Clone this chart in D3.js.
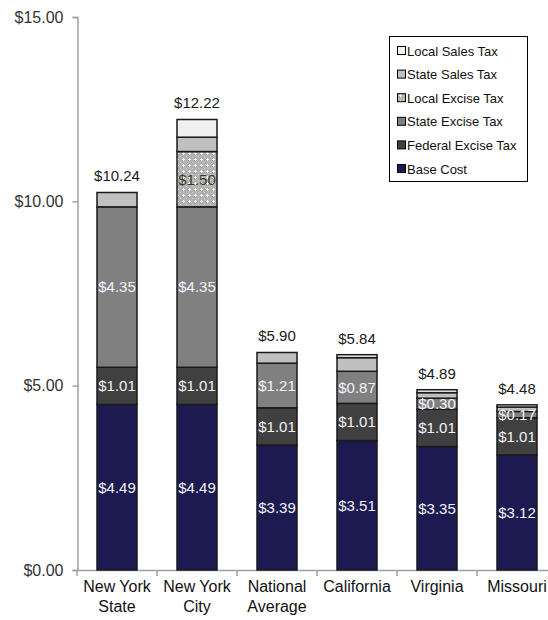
<!DOCTYPE html>
<html>
<head>
<meta charset="utf-8">
<script src="https://cdn.jsdelivr.net/npm/d3@7"></script>
<style>
  html, body { margin: 0; padding: 0; background: #fff; }
  svg { display: block; font-family: "Liberation Sans", Arial, sans-serif; }
</style>
</head>
<body>
<svg id="chart" width="548" height="620"></svg>
<script>
// Price of a pack of cigarettes, split into cost and tax components
const categories = ["New York State", "New York City", "National Average", "California", "Virginia", "Missouri"];
const categoryLines = [["New York", "State"], ["New York", "City"], ["National", "Average"], ["California"], ["Virginia"], ["Missouri"]];

const baseCost      = [4.49, 4.49, 3.39, 3.51, 3.35, 3.12];
const federalExcise = [1.01, 1.01, 1.01, 1.01, 1.01, 1.01];
const stateExcise   = [4.35, 4.35, 1.21, 0.87, 0.30, 0.17];
const localExcise   = [0.00, 1.50, 0.00, 0.00, 0.00, 0.00];
const stateSales    = [0.39, 0.39, 0.29, 0.37, 0.15, 0.12];
const localSales    = [0.00, 0.48, 0.00, 0.08, 0.08, 0.06];

const seriesKeys   = ["base", "federal", "stateExcise", "localExcise", "stateSales", "localSales"];
const seriesNames  = ["Base Cost", "Federal Excise Tax", "State Excise Tax", "Local Excise Tax", "State Sales Tax", "Local Sales Tax"];
const labelledKeys = ["base", "federal", "stateExcise", "localExcise"];
const yTicks = [0, 5, 10, 15];

const rows = categories.map((c, i) => ({
  category: c,
  base: baseCost[i],
  federal: federalExcise[i],
  stateExcise: stateExcise[i],
  localExcise: localExcise[i],
  stateSales: stateSales[i],
  localSales: localSales[i]
}));

const svg = d3.select("#chart");

// dotted fill for the local excise tax
const defs = svg.append("defs");
const pat = defs.append("pattern")
  .attr("id", "dots").attr("patternUnits", "userSpaceOnUse")
  .attr("width", 6).attr("height", 6);
pat.append("rect").attr("width", 6).attr("height", 6).attr("fill", "#b2b2b2");
pat.append("rect").attr("x", 0).attr("y", 0).attr("width", 1).attr("height", 1).attr("fill", "#d0d0d0");
pat.append("rect").attr("x", 2).attr("y", 4).attr("width", 1).attr("height", 1).attr("fill", "#999");
pat.append("rect").attr("x", 3).attr("y", 2).attr("width", 1).attr("height", 3).attr("fill", "#fff");
pat.append("rect").attr("x", 2).attr("y", 3).attr("width", 3).attr("height", 1).attr("fill", "#fff");

const fills = {
  base: "#1c1a50",
  federal: "#404040",
  stateExcise: "#808080",
  localExcise: "url(#dots)",
  stateSales: "#c0c0c0",
  localSales: "#f0f0f0"
};

const x = d3.scaleBand().domain(categories).range([77, 557]).paddingInner(0.5).paddingOuter(0.25);
const y = d3.scaleLinear().domain([0, 15]).range([570, 17]);

// Axes
const axisColor = "#a0a0a0";
const yAxis = svg.append("g").attr("transform", "translate(77.5,0)")
  .call(d3.axisLeft(y).tickValues(yTicks).tickFormat(d3.format("$.2f")).tickSize(5).tickPadding(9));
yAxis.select(".domain").attr("stroke", axisColor).attr("stroke-width", 1.5);
yAxis.selectAll(".tick line").attr("stroke", axisColor).attr("stroke-width", 1.5);
yAxis.selectAll(".tick text").attr("font-size", 16).attr("fill", "#333")
  .attr("font-family", "Liberation Sans, Arial, sans-serif");

const step = x.step();
const boundaries = d3.range(categories.length + 1).map(i => 77 + i * step);
const xAxisG = svg.append("g");
xAxisG.append("line").attr("x1", 77).attr("x2", 557)
  .attr("y1", y(0) + 0.5).attr("y2", y(0) + 0.5)
  .attr("stroke", axisColor).attr("stroke-width", 1.5);
xAxisG.selectAll("line.tk").data(boundaries).join("line").attr("class", "tk")
  .attr("x1", d => d).attr("x2", d => d)
  .attr("y1", y(0)).attr("y2", y(0) + 6)
  .attr("stroke", axisColor).attr("stroke-width", 1.5);

// category labels, possibly on two lines
const catText = svg.append("g").selectAll("text").data(categories).join("text")
  .attr("x", d => x(d) + x.bandwidth() / 2)
  .attr("y", 592)
  .attr("text-anchor", "middle")
  .attr("font-size", 16).attr("fill", "#111");
catText.each(function(d, i) {
  const t = d3.select(this);
  categoryLines[i].forEach((line, j) => {
    t.append("tspan").attr("x", x(d) + x.bandwidth() / 2).attr("dy", j === 0 ? 0 : 20).text(line);
  });
});

// Stacked bars
const stacked = d3.stack().keys(seriesKeys)(rows);
const layers = svg.append("g").selectAll("g").data(stacked).join("g")
  .attr("fill", d => fills[d.key]);
layers.selectAll("rect").data(d => d.filter(p => p[1] - p[0] > 0)).join("rect")
  .attr("x", d => x(d.data.category))
  .attr("y", d => y(d[1]))
  .attr("width", x.bandwidth())
  .attr("height", d => y(d[0]) - y(d[1]))
  .attr("stroke", "#1a1a1a").attr("stroke-width", 1.5);

// value labels inside the cost and excise segments
const labelG = svg.append("g");
stacked.filter(s => labelledKeys.includes(s.key)).forEach(s => {
  labelG.selectAll(null).data(s.filter(p => p[1] - p[0] > 0)).join("text")
    .attr("x", d => x(d.data.category) + x.bandwidth() / 2)
    .attr("y", d => y((d[0] + d[1]) / 2))
    .attr("dy", "0.36em")
    .attr("text-anchor", "middle")
    .attr("font-size", 15)
    .attr("fill", s.key === "localExcise" ? "#3a3a2a" : "#f2f2f8")
    .text(d => "$" + (d[1] - d[0]).toFixed(2));
});

// totals above each bar
const totals = rows.map(r => d3.sum(seriesKeys, k => r[k]));
svg.append("g").selectAll("text").data(rows).join("text")
  .attr("x", d => x(d.category) + x.bandwidth() / 2)
  .attr("y", (d, i) => y(totals[i]) - 11)
  .attr("text-anchor", "middle")
  .attr("font-size", 15).attr("fill", "#1a1a1a")
  .text((d, i) => "$" + totals[i].toFixed(2));

// Legend
const legend = svg.append("g");
legend.append("rect").attr("x", 389.5).attr("y", 36.5).attr("width", 138).attr("height", 145)
  .attr("fill", "#fff").attr("stroke", "#000").attr("stroke-width", 1);
const legendOrder = seriesKeys.slice().reverse();
const legendItems = legend.selectAll("g.item").data(legendOrder).join("g").attr("class", "item")
  .attr("transform", (d, i) => `translate(397, ${51 + i * 23.6})`);
legendItems.append("rect").attr("x", 0.5).attr("y", -4.5).attr("width", 8).attr("height", 8)
  .attr("fill", d => fills[d]).attr("stroke", "#000").attr("stroke-width", 1);
legendItems.append("text").attr("x", 10).attr("y", 0).attr("dy", "0.36em")
  .attr("font-size", 13).attr("fill", "#111")
  .text(d => seriesNames[seriesKeys.indexOf(d)]);
</script>
</body>
</html>
